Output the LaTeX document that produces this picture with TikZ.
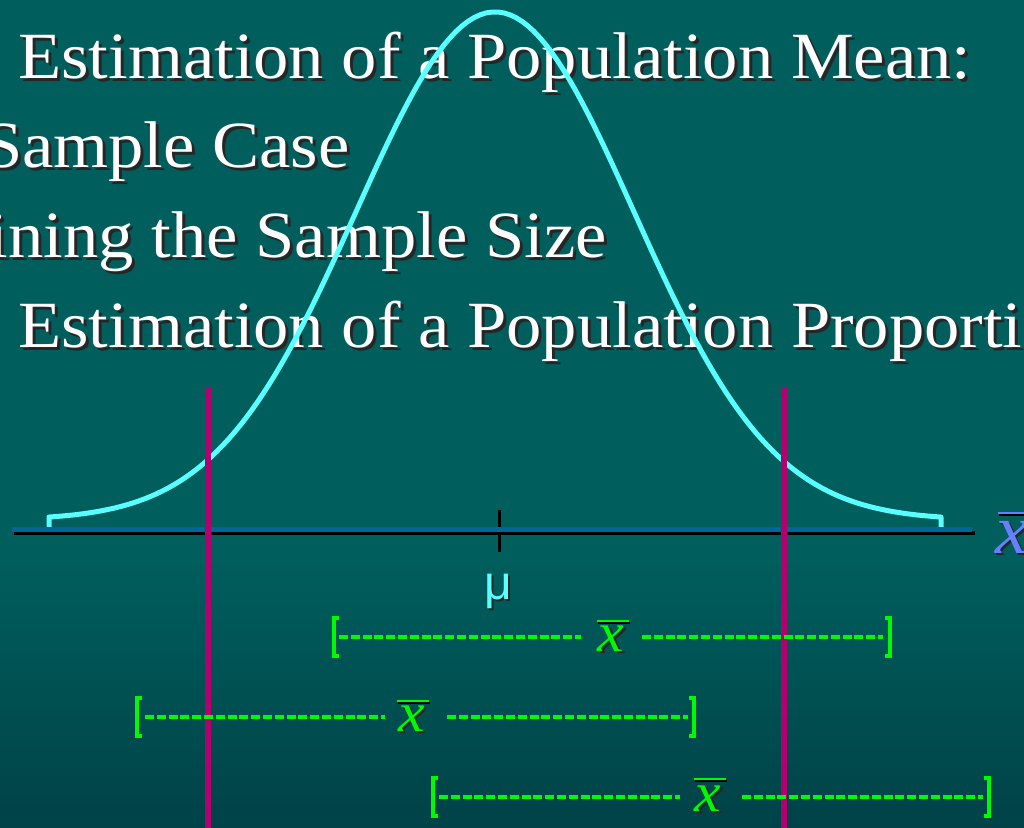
\documentclass[tikz,border=0pt]{standalone}
\usepackage{fontspec}
\setmainfont[FakeStretch=1.07]{Liberation Serif}
\newfontfamily\sansf{Liberation Sans}
\definecolor{bgtop}{RGB}{0,94,92}
\definecolor{bgbot}{RGB}{0,66,72}
\definecolor{curvecyan}{RGB}{90,255,255}
\definecolor{axisblue}{RGB}{0,102,153}
\definecolor{magline}{RGB}{180,0,110}
\definecolor{brightgreen}{RGB}{0,250,0}
\definecolor{xbarblue}{RGB}{102,128,255}
\newcommand\shd[2][3bp]{\makebox[0pt][l]{\hspace{#1}\raisebox{-#1}{\color{black!85}#2}}#2}
\tikzset{
  title/.style={text=white, inner sep=0pt, font=\fontsize{66bp}{70bp}\selectfont},
  bell/.style={draw=curvecyan, line width=5bp, line join=round, line cap=round},
  limitline/.style={draw=magline, line width=6bp},
  gdash/.style={draw=brightgreen, line width=4bp, dash pattern=on 9bp off 2.8bp},
  gbracket/.style={draw=brightgreen, line width=4bp, line join=miter},
  gbar/.style={draw=brightgreen, line width=2.5bp},
  gx/.style={text=brightgreen, inner sep=0pt, anchor=base, font=\fontsize{56bp}{56bp}\selectfont\itshape},
}
\begin{document}
\begin{tikzpicture}[x=1bp,y=-1bp]
\useasboundingbox (0,0) rectangle (1024,828);
\clip (0,0) rectangle (1024,828);
% background
\fill[bgtop] (0,0) rectangle (1024,560);
\shade[top color=bgtop, bottom color=bgbot] (0,559) rectangle (1024,828);
% titles
\node[title, anchor=base west] (t1) at (18,78) {\shd{Estimation of a Population Mean:}};
\node[title, anchor=base east] (t2) at (350,167) {\shd{Sample Case}};
\node[title, anchor=base east] (t3) at (607,257) {\shd{ining the Sample Size}};
\node[title, anchor=base west] (t4) at (18,347) {\shd{Estimation of a Population Proportion}};
% bell curve
\draw[bell] (49,527) -- (49,517) -- plot[domain=49:941, samples=150] (\x,{520-508*exp(-((\x-495)/139)^2/2)}) -- (941,527);
% axis
\coordinate (ax0) at (12,529.5);
\coordinate (ax1) at (972,529.5);
\draw[black, line width=3bp] (499,510) -- (499,552);
\draw[black, line width=4bp] ([shift={(2,3.5)}]ax0) -- ([shift={(3,3.5)}]ax1);
\draw[axisblue, line width=5.5bp] (ax0) -- (ax1);
\node[text=xbarblue, inner sep=0pt, anchor=base west, font=\fontsize{70bp}{70bp}\selectfont\itshape] (xr) at (995,553) {\shd[2bp]{x}};
\draw[black, line width=2.5bp] (999,515) -- (1030,515);
\draw[xbarblue, line width=2.5bp] (998,513) -- (1030,513);
% mu
\node[text=curvecyan, inner sep=0pt, anchor=base, font=\sansf\fontsize{48bp}{48bp}\selectfont] (mu) at (498.5,599) {\shd[2bp]{μ}};
% limit lines
\draw[limitline] (208,388) -- (208,828);
\draw[limitline] (784,388) -- (784,828);
% interval 1
\draw[gbracket] (338.5,618) -- (333.5,618) -- (333.5,656) -- (338.5,656);
\draw[gdash] (339,637) -- (581,637);
\node[gx] (g1) at (611,651) {\shd[2.5bp]{x}};
\draw[black, line width=2bp] (598,623) -- (630,623);
\draw[gbar] (597,621) -- (629,621);
\draw[gdash] (642,637) -- (883,637);
\draw[gbracket] (885,618) -- (890,618) -- (890,656) -- (885,656);
% interval 2
\draw[gbracket] (142,698) -- (137,698) -- (137,736) -- (142,736);
\draw[gdash] (145,717) -- (385,717);
\node[gx] (g2) at (411.5,731) {\shd[2.5bp]{x}};
\draw[black, line width=2bp] (398,703) -- (430,703);
\draw[gbar] (397,701) -- (429,701);
\draw[gdash] (447,717) -- (688,717);
\draw[gbracket] (689,698) -- (694,698) -- (694,736) -- (689,736);
% interval 3
\draw[gbracket] (438,778) -- (433,778) -- (433,816) -- (438,816);
\draw[gdash] (439,797) -- (680,797);
\node[gx] (g3) at (708,811) {\shd[2.5bp]{x}};
\draw[black, line width=2bp] (695,781) -- (727,781);
\draw[gbar] (694,779) -- (726,779);
\draw[gdash] (742,797) -- (983,797);
\draw[gbracket] (984,778) -- (989,778) -- (989,816) -- (984,816);
\end{tikzpicture}
\end{document}
